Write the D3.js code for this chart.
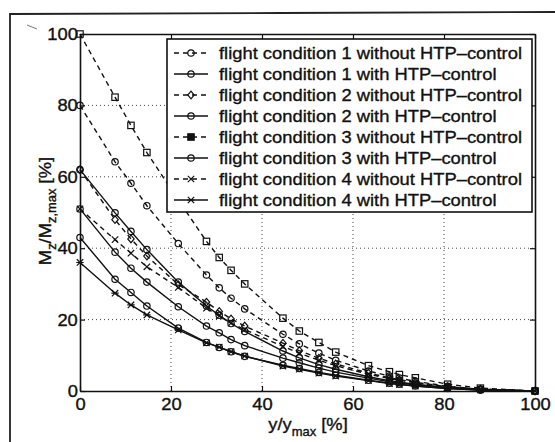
<!DOCTYPE html>
<html>
<head>
<meta charset="utf-8">
<script src="https://cdn.jsdelivr.net/npm/d3@7"></script>
<style>
  body { margin: 0; background: #fff; }
  svg { display: block; }
  text { font-family: "Liberation Sans", Arial, sans-serif; fill: #111; stroke: #111; stroke-width: 0.35px; }
</style>
</head>
<body>
<svg width="555" height="442"></svg>
<script>
// spanwise stations y/ymax [%]
const stations = [0, 7.7, 11.2, 14.7, 21.6, 27.8, 30.6, 33.2, 36.2, 44.6, 48.2, 52.5, 56.2, 63.4, 68, 70.2, 73.7, 80.8, 88, 100];

// Mz/Mz,max [%] per flight condition
const fc1Without = [80, 64.2, 58.2, 51.9, 41.3, 32.5, 28.9, 26, 23, 15.9, 13.2, 10.6, 8.6, 5.6, 4.2, 3.6, 2.7, 1.3, 0.5, 0];
const fc1With    = [62, 49.9, 44.7, 39.6, 30.5, 23.8, 21.2, 18.9, 16.7, 11.2, 9.3, 7.4, 6.1, 4, 2.9, 2.5, 1.9, 1, 0.4, 0];
const fc2Without = [62, 48, 42.6, 37.8, 29.8, 24.9, 22.3, 20.2, 18.2, 13.4, 11.3, 9.2, 7.6, 5, 3.7, 3.2, 2.4, 1.2, 0.5, 0];
const fc2With    = [51, 38.9, 34.4, 30.5, 23.6, 18.2, 16.3, 14.4, 12.7, 9.2, 7.9, 6.4, 5.3, 3.6, 2.6, 2.3, 1.7, 0.9, 0.3, 0];
const fc3Without = [100, 82.3, 74.4, 66.8, 53.5, 41.9, 37.4, 33.8, 30, 20.4, 16.8, 13.6, 10.9, 7.1, 5.4, 4.6, 3.7, 1.9, 0.8, 0];
const fc3With    = [43, 31.3, 27.6, 23.8, 17.6, 13.6, 12.2, 11, 9.7, 7.2, 6.3, 5.2, 4.4, 3, 2.2, 1.9, 1.4, 0.7, 0.3, 0];
const fc4Without = [51, 42.4, 38.6, 34.8, 29, 23.2, 21, 19, 17.2, 12.5, 10.6, 8.6, 7.1, 4.7, 3.5, 3, 2.3, 1.1, 0.5, 0];
const fc4With    = [36, 27.4, 24.1, 21.3, 17.1, 13.5, 12.3, 11, 9.8, 7, 6.1, 5, 4.2, 2.9, 2.1, 1.8, 1.4, 0.7, 0.3, 0];

const legendLabels = [
    "flight condition 1 without HTP\u2013control",
    "flight condition 1 with HTP\u2013control",
    "flight condition 2 without HTP\u2013control",
    "flight condition 2 with HTP\u2013control",
    "flight condition 3 without HTP\u2013control",
    "flight condition 3 with HTP\u2013control",
    "flight condition 4 without HTP\u2013control",
    "flight condition 4 with HTP\u2013control"
];
const xTicks = [0, 20, 40, 60, 80, 100];
const yTicks = [0, 20, 40, 60, 80, 100];

const series = [
    { values: fc1Without, dashed: true,  marker: "circle" },
    { values: fc1With,    dashed: false, marker: "circle" },
    { values: fc2Without, dashed: true,  marker: "diamond" },
    { values: fc2With,    dashed: false, marker: "circle" },
    { values: fc3Without, dashed: true,  marker: "square" },
    { values: fc3With,    dashed: false, marker: "circle" },
    { values: fc4Without, dashed: true,  marker: "cross" },
    { values: fc4With,    dashed: false, marker: "star" }
];

const svg = d3.select("svg");
const sx = 1.08; // the scanned lettering is a bit wide

const x = d3.scaleLinear().domain([0, 100]).range([80, 535]);
const y = d3.scaleLinear().domain([0, 100]).range([391, 34]);

// scan frame
svg.append("path")
    .attr("d", "M10,442 L10,14 L280,13 L555,12")
    .attr("fill", "none").attr("stroke", "#222").attr("stroke-width", 1.8);
svg.append("line")
    .attr("x1", 27).attr("y1", 25).attr("x2", 37).attr("y2", 29)
    .attr("stroke", "#777").attr("stroke-width", 1);

// grid
const grid = svg.append("g").attr("stroke", "#444").attr("stroke-width", 1).attr("stroke-dasharray", "1,3");
grid.selectAll(".gx").data(xTicks.slice(1, -1)).join("line")
    .attr("x1", d => x(d)).attr("x2", d => x(d))
    .attr("y1", y(0)).attr("y2", y(100));
grid.selectAll(".gy").data(yTicks.slice(1, -1)).join("line")
    .attr("y1", d => y(d)).attr("y2", d => y(d))
    .attr("x1", x(0)).attr("x2", x(100));

// axes (MATLAB style box, ticks pointing inwards)
function styleAxis(g) {
    g.select(".domain").attr("stroke", "#111").attr("stroke-width", 1.6);
    g.selectAll(".tick line").attr("stroke", "#111").attr("stroke-width", 1.2);
    g.selectAll(".tick text")
        .attr("fill", "#111")
        .style("font-size", "17px")
        .style("font-family", "'Liberation Sans', Arial, sans-serif");
}

svg.append("g")
    .attr("transform", `translate(0,${y(0)})`)
    .call(d3.axisBottom(x).tickValues(xTicks).tickSizeInner(-5).tickSizeOuter(0).tickPadding(7))
    .call(styleAxis)
    .call(g => g.selectAll(".tick text").attr("transform", `scale(${sx},1)`));

svg.append("g")
    .attr("transform", `translate(${x(0)},0)`)
    .call(d3.axisLeft(y).tickValues(yTicks).tickSizeInner(-5).tickSizeOuter(0).tickPadding(2))
    .call(styleAxis)
    .call(g => g.selectAll(".tick text").attr("transform", `scale(${sx},1)`));

svg.append("g")
    .attr("transform", `translate(0,${y(100)})`)
    .call(d3.axisTop(x).tickValues(xTicks).tickSizeInner(-5).tickSizeOuter(0).tickFormat(""))
    .call(styleAxis);

svg.append("g")
    .attr("transform", `translate(${x(100)},0)`)
    .call(d3.axisRight(y).tickValues(yTicks).tickSizeInner(-5).tickSizeOuter(0).tickFormat(""))
    .call(styleAxis);

// markers
function drawMarker(g, type, cx, cy) {
    const s = 3.2;
    if (type === "circle") {
        g.append("circle").attr("cx", cx).attr("cy", cy).attr("r", s);
    } else if (type === "square") {
        g.append("rect").attr("x", cx - s).attr("y", cy - s).attr("width", 2 * s).attr("height", 2 * s);
    } else if (type === "diamond") {
        g.append("path").attr("d", `M${cx},${cy - s - 0.6}L${cx + s},${cy}L${cx},${cy + s + 0.6}L${cx - s},${cy}Z`);
    } else if (type === "cross") {
        g.append("path").attr("d", `M${cx - s},${cy - s}L${cx + s},${cy + s}M${cx - s},${cy + s}L${cx + s},${cy - s}`);
    } else {
        g.append("path").attr("d",
            `M${cx - s},${cy - s}L${cx + s},${cy + s}M${cx - s},${cy + s}L${cx + s},${cy - s}M${cx - s - 0.5},${cy}L${cx + s + 0.5},${cy}`);
    }
}

const line = d3.line().x(d => x(d[0])).y(d => y(d[1]));

const plot = svg.append("g");
series.forEach(s => {
    const pts = stations.map((st, i) => [st, s.values[i]]);
    plot.append("path")
        .attr("d", line(pts))
        .attr("fill", "none")
        .attr("stroke", "#111")
        .attr("stroke-width", 1.4)
        .attr("stroke-dasharray", s.dashed ? "5,4" : null);
    const mg = plot.append("g").attr("fill", "none").attr("stroke", "#111").attr("stroke-width", 1.2);
    pts.forEach(p => drawMarker(mg, s.marker, x(p[0]), y(p[1])));
});

// legend
const legend = svg.append("g");
legend.append("rect")
    .attr("x", 167).attr("y", 39).attr("width", 365).attr("height", 173)
    .attr("fill", "#fff").attr("stroke", "#111").attr("stroke-width", 1.6);

legendLabels.forEach((label, i) => {
    const cy = 53 + i * 21;
    const s = series[i];
    legend.append("line")
        .attr("x1", 174).attr("x2", 208).attr("y1", cy).attr("y2", cy)
        .attr("stroke", "#111").attr("stroke-width", 1.4)
        .attr("stroke-dasharray", s.dashed ? "5,4" : null);
    const mg = legend.append("g")
        .attr("fill", s.marker === "square" ? "#111" : "none")
        .attr("stroke", "#111").attr("stroke-width", 1.2);
    drawMarker(mg, s.marker, 191, cy);
    legend.append("g")
        .attr("transform", `translate(219,${cy + 6}) scale(${sx},1)`)
        .append("text")
        .style("font-size", "17px")
        .text(label);
});

// axis titles
const xTitle = svg.append("g")
    .attr("transform", `translate(308,430) scale(${sx},1)`)
    .append("text")
    .attr("text-anchor", "middle")
    .style("font-size", "17px");
xTitle.append("tspan").text("y/y");
xTitle.append("tspan").attr("dy", 6).style("font-size", "12px").text("max");
xTitle.append("tspan").attr("dy", -6).text(" [%]");

const yTitle = svg.append("g")
    .attr("transform", `translate(51,211) rotate(-90) scale(${sx},1)`)
    .append("text")
    .attr("text-anchor", "middle")
    .style("font-size", "17px");
yTitle.append("tspan").text("M");
yTitle.append("tspan").attr("dy", 5).style("font-size", "12px").text("z");
yTitle.append("tspan").attr("dy", -5).text("/M");
yTitle.append("tspan").attr("dy", 5).style("font-size", "12px").text("z,max");
yTitle.append("tspan").attr("dy", -5).text(" [%]");
</script>
</body>
</html>
